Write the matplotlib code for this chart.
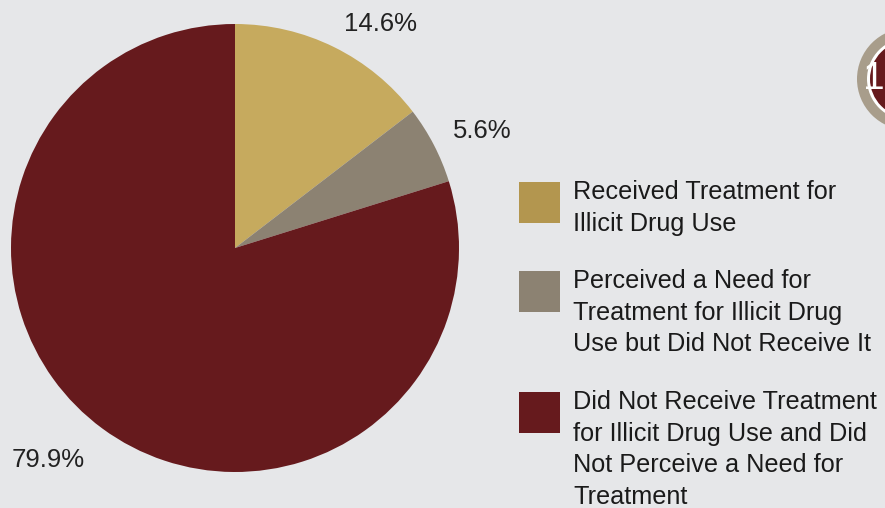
import matplotlib.pyplot as plt
from matplotlib.patches import Circle, Rectangle

plt.rcParams['font.family'] = ['Liberation Sans', 'DejaVu Sans']

# data
shares = [14.6, 5.6, 79.9]
pct_labels = ['14.6%', '5.6%', '79.9%']
legend_labels = ['Received Treatment for\nIllicit Drug Use',
                 'Perceived a Need for\nTreatment for Illicit Drug\nUse but Did Not Receive It',
                 'Did Not Receive Treatment\nfor Illicit Drug Use and Did\nNot Perceive a Need for\nTreatment']
pie_colors = ['#c6aa5e', '#8c8272', '#661a1d']
swatch_colors = ['#b3964f', '#8c8272', '#661a1d']

bg = '#e6e7e9'
W, H = 885, 508

fig = plt.figure(figsize=(W / 100, H / 100), dpi=100)
fig.patch.set_facecolor(bg)
ax = fig.add_axes([0, 0, 1, 1])
ax.set_facecolor(bg)

wedges, texts = ax.pie(shares, colors=pie_colors, startangle=90, counterclock=False,
                       center=(235, H - 248), radius=224,
                       labels=pct_labels, labeldistance=1.2,
                       textprops={'fontsize': 18.5, 'color': '#222222'},
                       wedgeprops={'linewidth': 0})

# nudge percentage labels to where the original has them
label_pos = [(380, 24), (482, 131), (48, 460)]
for t, (x, y) in zip(texts, label_pos):
    t.set_position((x, H - y))
    t.set_ha('center')
    t.set_va('center')

# legend drawn by hand
swatch_top = [182, 271, 392]
for lab, col, top in zip(legend_labels, swatch_colors, swatch_top):
    ax.add_patch(Rectangle((519, H - top - 41), 41, 41, color=col, lw=0))
    ax.text(573, H - top + 2, lab, fontsize=18.2, color='#1a1a1a',
            va='top', ha='left', linespacing=1.40)

# badge in the top right corner, cut off by the edge
cx, cy = 908, H - 79
ax.add_patch(Circle((cx, cy), 51, color='#a89d8b', lw=0))
ax.add_patch(Circle((cx, cy), 41, color='white', lw=0))
ax.add_patch(Circle((cx, cy), 38, color='#661a1d', lw=0))
ax.text(885, cy, '1', fontsize=28, color='white', va='center', ha='right')

ax.set_xlim(0, W)
ax.set_ylim(0, H)
ax.set_aspect('equal')
ax.axis('off')

plt.savefig('out.png', dpi=100, facecolor=bg)
